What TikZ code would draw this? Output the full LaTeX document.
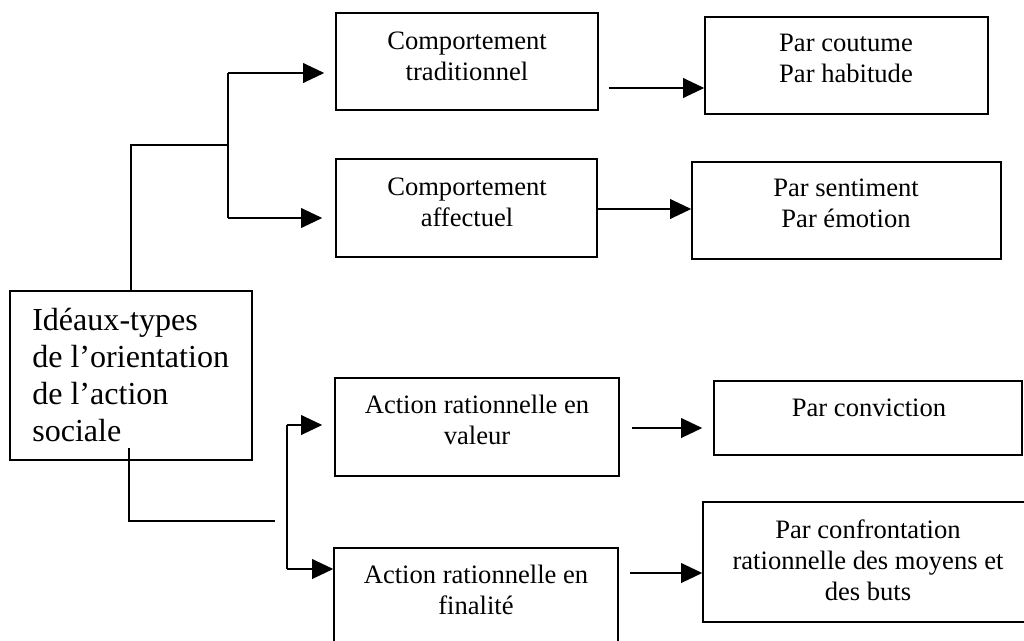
\documentclass[tikz,border=0pt]{standalone}
\usepackage{fontspec}
\setmainfont{Liberation Serif}
\usetikzlibrary{arrows.meta,fit}
\tikzset{
  box/.style={draw=black, line width=1.1pt, inner sep=0pt, fill=none},
  txt/.style={inner sep=0pt, align=center, font=\fontsize{18.9pt}{22.1pt}\selectfont},
  bigtxt/.style={inner sep=0pt, align=left, font=\fontsize{22.8pt}{26.4pt}\selectfont},
  conn/.style={draw=black, line width=1.1pt},
  arr/.style={conn, -{Triangle[length=15pt,width=14pt]}}
}
\begin{document}
\begin{tikzpicture}[x=0.025cm, y=-0.025cm]
\useasboundingbox (0,0) rectangle (1024,640);
\clip (0,0) rectangle (1024,640);
\fill[white] (0,0) rectangle (1024,640);
% boxes
\node[box, fit={(10,291) (252,460)}] (L) {};
\node[box, fit={(336,13) (598,110)}] (t1) {};
\node[box, fit={(336,159) (597,257)}] (t2) {};
\node[box, fit={(335,378) (619,476)}] (t3) {};
\node[box, fit={(334,548) (618,660)}] (t4) {};
\node[box, fit={(705,17) (988,114)}] (r1) {};
\node[box, fit={(692,162) (1001,259)}] (r2) {};
\node[box, fit={(714,381) (1022,455)}] (r3) {};
\node[box, fit={(703,502) (1040,622)}] (r4) {};
% texts
\node[bigtxt, anchor=north west] (Ltxt) at (32,308) {Idéaux-types\\de l’orientation\\de l’action\\sociale};
\node[txt, anchor=north] (t1txt) at (467,32) {Comportement\\traditionnel};
\node[txt, anchor=north] (t2txt) at (467,178) {Comportement\\affectuel};
\node[txt, anchor=north] (t3txt) at (477,395) {Action rationnelle en\\valeur};
\node[txt, anchor=north] (t4txt) at (476,565) {Action rationnelle en\\finalité};
\node[txt, anchor=north] (r1txt) at (846,34) {Par coutume\\Par habitude};
\node[txt, anchor=north] (r2txt) at (846,179) {Par sentiment\\Par émotion};
\node[txt, anchor=north] (r3txt) at (869,399) {Par conviction};
\node[txt, anchor=north] (r4txt) at (868,519) {Par confrontation\\rationnelle des moyens et\\des buts};
% connector coordinates
\coordinate (ua) at (131,291);
\coordinate (ub) at (131,145);
\coordinate (uc) at (228,145);
\coordinate (ud) at (228,73);
\coordinate (ue) at (228,218);
\coordinate (la) at (129,448);
\coordinate (lb) at (129,521);
\coordinate (lc) at (275,521);
\coordinate (ld) at (287,425);
\coordinate (le) at (287,569);
% upper branch
\draw[conn] (L.north -| ua) -- (ub) -- (uc);
\draw[conn] (ud) -- (ue);
\draw[arr] (ud) -- ([xshift=-11*0.025cm]t1.west |- ud);
\draw[arr] (ue) -- ([xshift=-13*0.025cm]t2.west |- ue);
% lower branch
\draw[conn] (la) -- (lb) -- (lc);
\draw[conn] (ld) -- (le);
\draw[arr] (ld) -- ([xshift=-12*0.025cm]t3.west |- ld);
\draw[arr] (le) -- (t4.west |- le);
% second column arrows
\draw[arr] ([xshift=10*0.025cm]t1.east |- 0,88) -- (r1.west |- 0,88);
\draw[arr] (t2.east |- 0,209) -- (r2.west |- 0,209);
\draw[arr] ([xshift=12*0.025cm]t3.east |- 0,428) -- ([xshift=-11*0.025cm]r3.west |- 0,428);
\draw[arr] ([xshift=11*0.025cm]t4.east |- 0,573) -- (r4.west |- 0,573);
\end{tikzpicture}
\end{document}
